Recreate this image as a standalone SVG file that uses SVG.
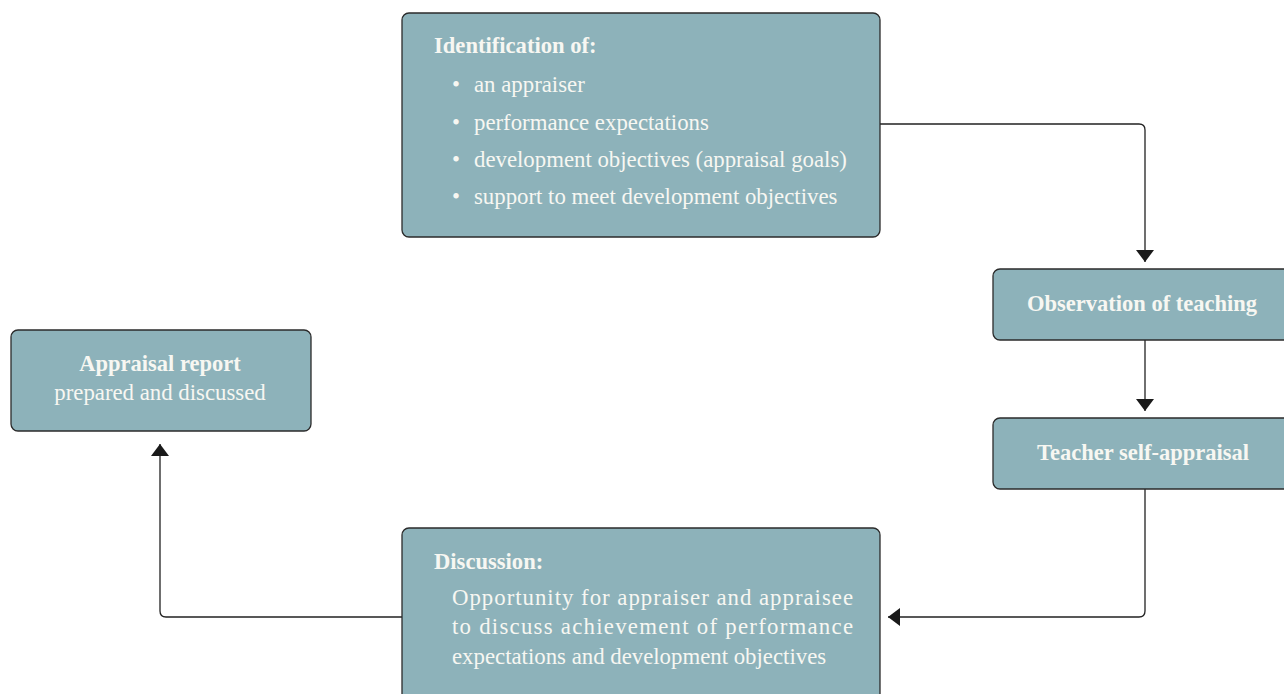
<svg xmlns="http://www.w3.org/2000/svg" width="1284" height="694" viewBox="0 0 1284 694">
<defs>
<style>
.box{fill:#8db2ba;stroke:#2b2b2b;stroke-width:1.3}
.t{font-family:"Liberation Serif","Times New Roman",serif;fill:#f7f7f2;font-size:22.8px}
.b{font-weight:bold;font-size:22.5px}
.h{font-weight:bold;font-size:22.6px}
.c{stroke:#222;stroke-width:1.3;fill:none}
</style>
<marker id="ah" viewBox="0 0 12 18" refX="12" refY="9" markerWidth="12" markerHeight="18" markerUnits="userSpaceOnUse" orient="auto">
<path d="M0,0 L12,9 L0,18 Z" fill="#1a1a1a"/>
</marker>
</defs>
<rect width="1284" height="694" fill="#ffffff"/>
<g id="connectors">
<path class="c" d="M880,124 H1139 Q1145,124 1145,130 V262" marker-end="url(#ah)"/>
<path class="c" d="M1145,340 V411" marker-end="url(#ah)"/>
<path class="c" d="M1145,489 V611 Q1145,617 1139,617 H888" marker-end="url(#ah)"/>
<path class="c" d="M402,617 H166 Q160,617 160,611 V444" marker-end="url(#ah)"/>
</g>
<g id="identification">
<rect class="box" x="402" y="13" width="478" height="224" rx="7"/>
<text class="t h" x="434" y="53">Identification of:</text>
<text class="t" x="452" y="92">•</text>
<text class="t" x="474" y="92">an appraiser</text>
<text class="t" x="452" y="130">•</text>
<text class="t" x="474" y="130">performance expectations</text>
<text class="t" x="452" y="167">•</text>
<text class="t" x="474" y="167">development objectives (appraisal goals)</text>
<text class="t" x="452" y="204">•</text>
<text class="t" x="474" y="204">support to meet development objectives</text>
</g>
<g id="observation">
<rect class="box" x="993" y="269" width="300" height="71" rx="7"/>
<text class="t b" x="1142" y="311" text-anchor="middle">Observation of teaching</text>
</g>
<g id="selfappraisal">
<rect class="box" x="993" y="418" width="300" height="71" rx="7"/>
<text class="t b" x="1143" y="460" text-anchor="middle">Teacher self-appraisal</text>
</g>
<g id="report">
<rect class="box" x="11" y="330" width="300" height="101" rx="7"/>
<text class="t b" x="160" y="371" text-anchor="middle">Appraisal report</text>
<text class="t" x="160" y="400" text-anchor="middle">prepared and discussed</text>
</g>
<g id="discussion">
<rect class="box" x="402" y="528" width="478" height="180" rx="7"/>
<text class="t h" x="434" y="569">Discussion:</text>
<text class="t" x="452" y="605" textLength="401" lengthAdjust="spacing">Opportunity for appraiser and appraisee</text>
<text class="t" x="452" y="634" textLength="401" lengthAdjust="spacing">to discuss achievement of performance</text>
<text class="t" x="452" y="664">expectations and development objectives</text>
</g>
</svg>
